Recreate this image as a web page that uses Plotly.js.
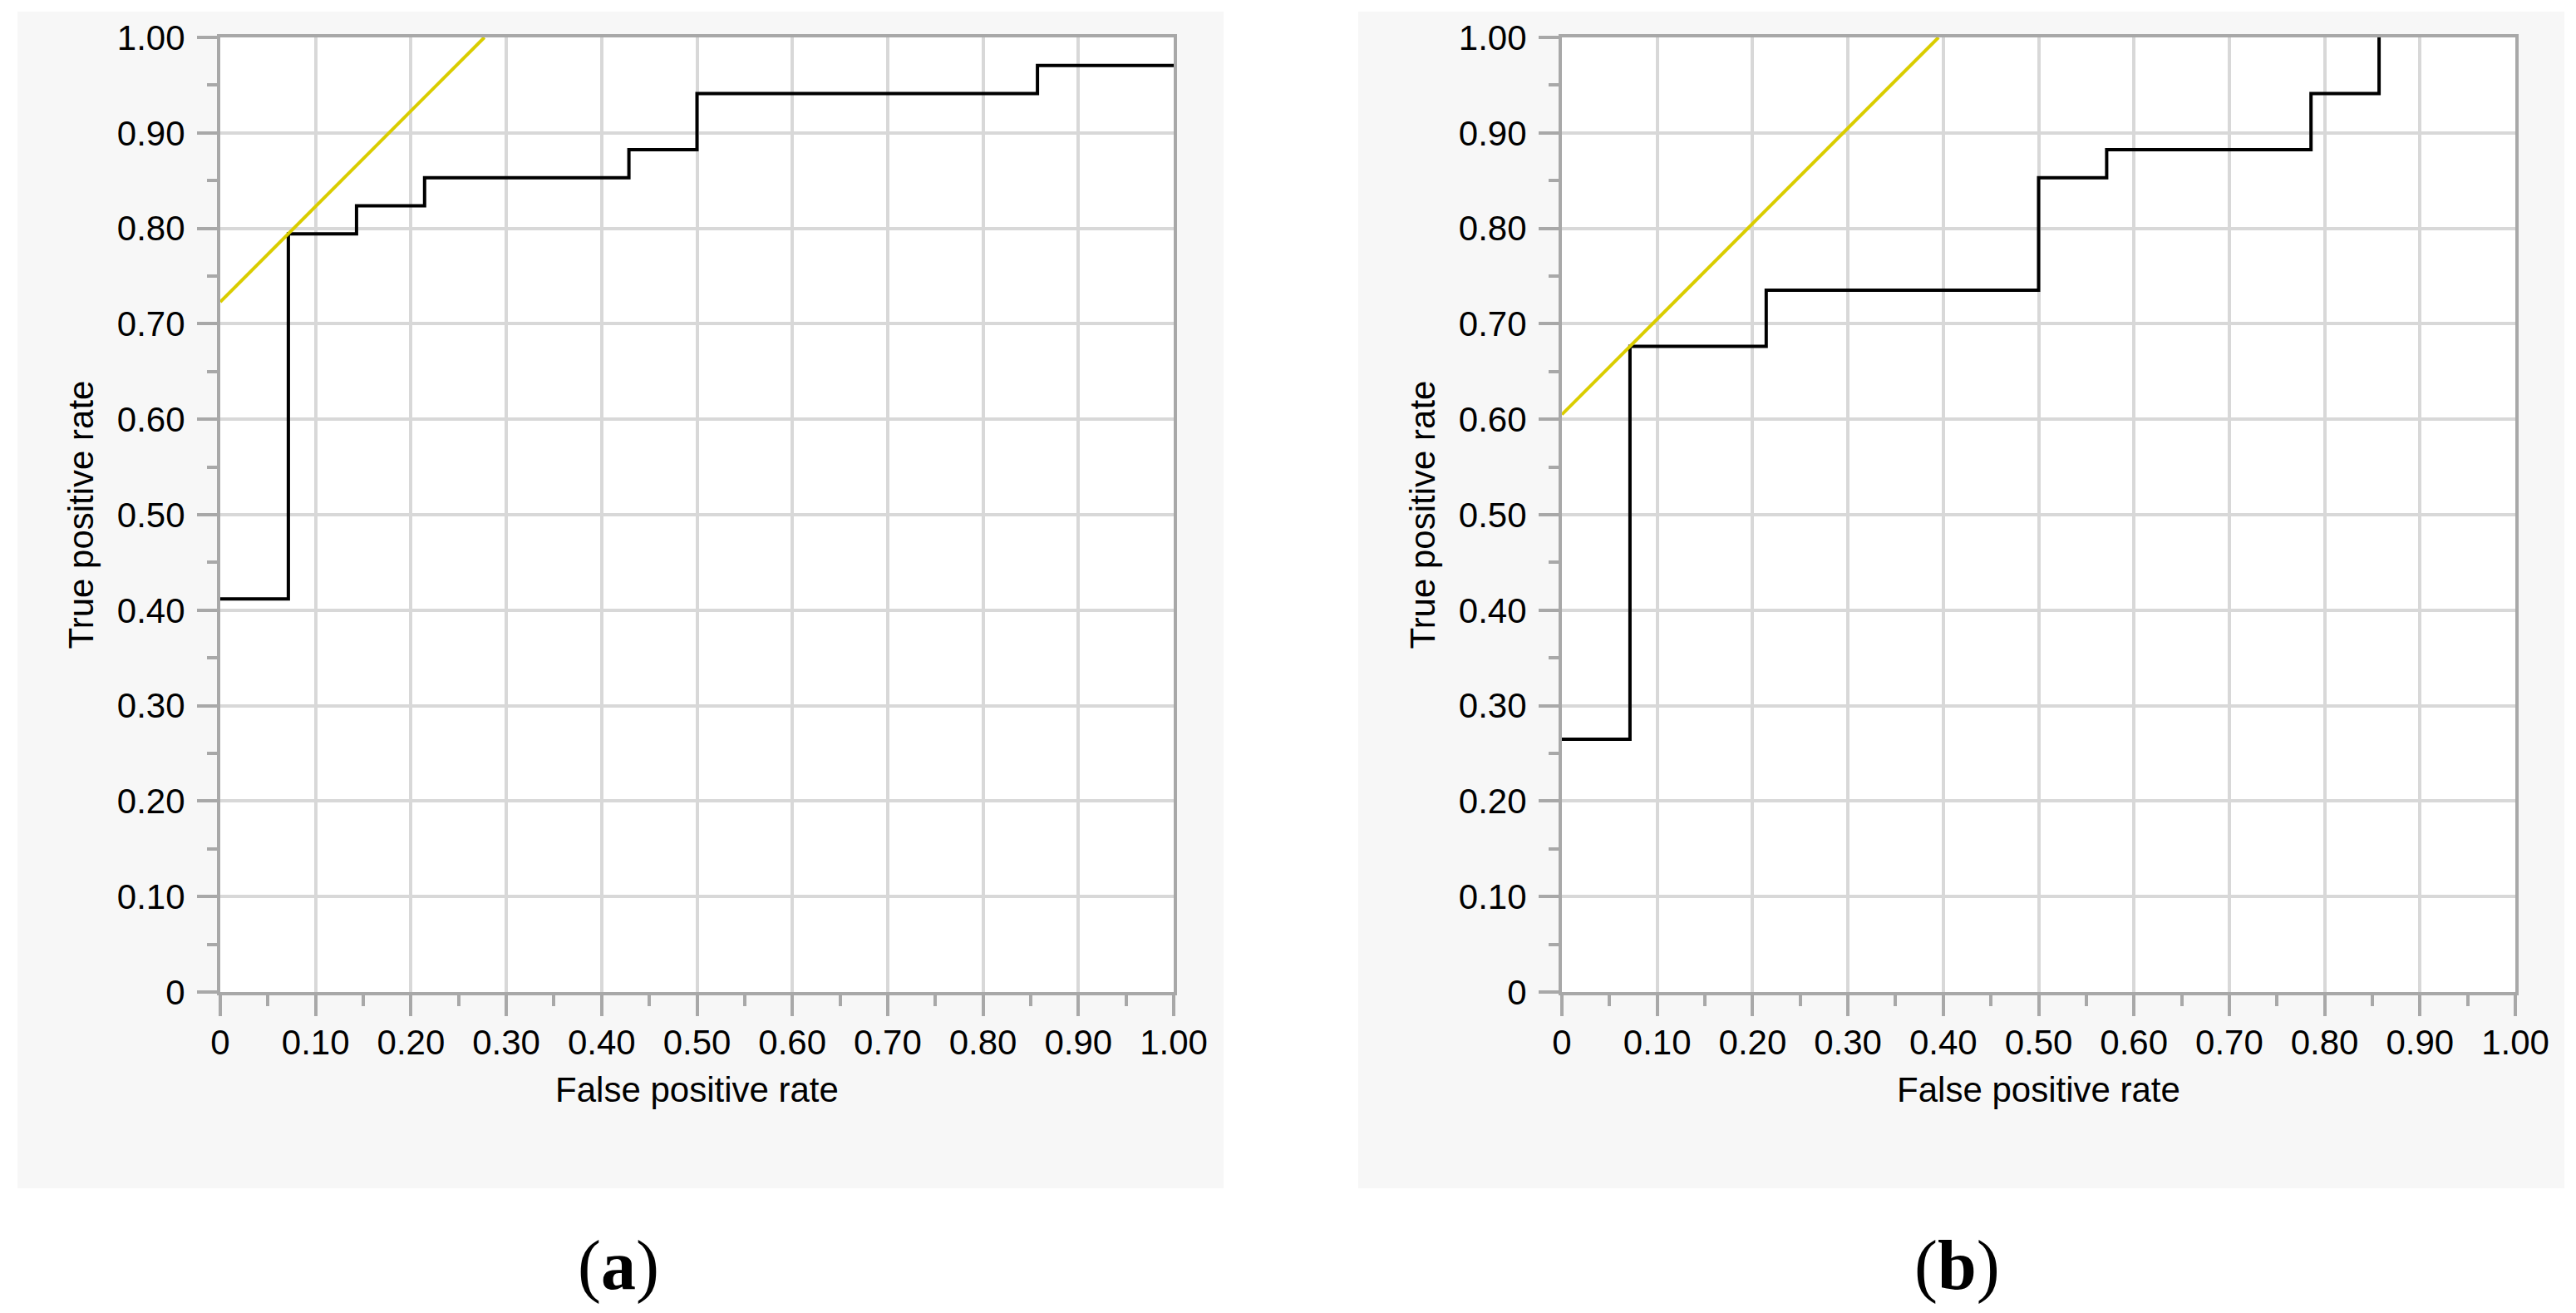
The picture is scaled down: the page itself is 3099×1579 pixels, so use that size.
<!DOCTYPE html>
<html>
<head>
<meta charset="utf-8">
<script src="https://cdn.plot.ly/plotly-3.0.1.min.js"></script>
<style>
  html, body { margin: 0; padding: 0; background: #ffffff; }
  #chart { width: 3099px; height: 1579px; }
</style>
</head>
<body>
<div id="chart"></div>
<script>
// ---- data ----
const tickVals = [0, 0.1, 0.2, 0.3, 0.4, 0.5, 0.6, 0.7, 0.8, 0.9, 1.0];
const tickText = ['0', '0.10', '0.20', '0.30', '0.40', '0.50', '0.60', '0.70', '0.80', '0.90', '1.00'];

// panel (a) ROC step curve (points joined horizontal-then-vertical)
const fprA = [0, 0.0714, 0.1429, 0.2143, 0.4286, 0.5, 0.8571, 1.0];
const tprA = [0.4118, 0.7941, 0.8235, 0.8529, 0.8824, 0.9412, 0.9706, 0.9706];
// panel (a) yellow tangent line
const tangentAX = [0, 0.277];
const tangentAY = [0.723, 1.0];

// panel (b) ROC step curve
const fprB = [0, 0.0714, 0.2143, 0.5, 0.5714, 0.7857, 0.8571];
const tprB = [0.2647, 0.6765, 0.7353, 0.8529, 0.8824, 0.9412, 1.0];
// panel (b) yellow tangent line
const tangentBX = [0, 0.395];
const tangentBY = [0.605, 1.0];

const xTitle = 'False positive rate';
const yTitle = 'True positive rate';
const panelLabels = ['(<b>a</b>)', '(<b>b</b>)'];

// ---- layout geometry ----
const W = 3099, H = 1579;
const px = v => v / W;
const py = v => 1 - v / H;

const axisColor = '#a8a8a8';
const gridColor = '#d8d8d8';
const tickFont = { family: 'Liberation Sans, Arial, Helvetica, sans-serif', size: 42, color: '#000000' };

function xAxis(domain, anchor) {
  return {
    domain: domain, anchor: anchor, range: [0, 1], fixedrange: true,
    tickmode: 'array', tickvals: tickVals, ticktext: tickText,
    ticks: 'outside', ticklen: 25, tickwidth: 4, tickcolor: axisColor,
    minor: { tickmode: 'linear', tick0: 0, dtick: 0.05, ticks: 'outside', ticklen: 13, tickwidth: 4, tickcolor: axisColor, showgrid: false },
    showgrid: true, gridcolor: gridColor, gridwidth: 4,
    zeroline: false, showline: true, linecolor: axisColor, linewidth: 4, mirror: true,
    tickfont: tickFont, ticklabelstandoff: -4,
    title: { text: xTitle, font: tickFont, standoff: 20 },
    automargin: false
  };
}
function yAxis(domain, anchor) {
  return {
    domain: domain, anchor: anchor, range: [0, 1], fixedrange: true,
    tickmode: 'array', tickvals: tickVals, ticktext: tickText,
    ticks: 'outside', ticklen: 24, tickwidth: 4, tickcolor: axisColor,
    minor: { tickmode: 'linear', tick0: 0, dtick: 0.05, ticks: 'outside', ticklen: 12, tickwidth: 4, tickcolor: axisColor, showgrid: false },
    showgrid: true, gridcolor: gridColor, gridwidth: 4,
    zeroline: false, showline: true, linecolor: axisColor, linewidth: 4, mirror: true,
    tickfont: tickFont, ticklabelstandoff: 6,
    title: { text: yTitle, font: tickFont, standoff: 16 },
    automargin: false
  };
}

const yDom = [py(1193), py(45)];
const xDomA = [px(265), px(1412)];
const xDomB = [px(1879), px(3026)];

const traces = [
  { x: fprA, y: tprA, xaxis: 'x', yaxis: 'y', type: 'scatter', mode: 'lines',
    line: { shape: 'hv', color: '#000000', width: 4 }, hoverinfo: 'skip', showlegend: false },
  { x: tangentAX, y: tangentAY, xaxis: 'x', yaxis: 'y', type: 'scatter', mode: 'lines',
    line: { color: '#dacd00', width: 4 }, hoverinfo: 'skip', showlegend: false },
  { x: fprB, y: tprB, xaxis: 'x2', yaxis: 'y2', type: 'scatter', mode: 'lines',
    line: { shape: 'hv', color: '#000000', width: 4 }, hoverinfo: 'skip', showlegend: false },
  { x: tangentBX, y: tangentBY, xaxis: 'x2', yaxis: 'y2', type: 'scatter', mode: 'lines',
    line: { color: '#dacd00', width: 4 }, hoverinfo: 'skip', showlegend: false }
];

const panelBg = '#f7f7f7';
const shapes = [
  { type: 'rect', xref: 'paper', yref: 'paper', x0: px(21), x1: px(1472), y0: py(1429), y1: py(14),
    fillcolor: panelBg, line: { width: 0 }, layer: 'below' },
  { type: 'rect', xref: 'paper', yref: 'paper', x0: px(1634), x1: px(3085), y0: py(1429), y1: py(14),
    fillcolor: panelBg, line: { width: 0 }, layer: 'below' },
  { type: 'rect', xref: 'paper', yref: 'paper', x0: xDomA[0], x1: xDomA[1], y0: yDom[0], y1: yDom[1],
    fillcolor: '#ffffff', line: { width: 0 }, layer: 'below' },
  { type: 'rect', xref: 'paper', yref: 'paper', x0: xDomB[0], x1: xDomB[1], y0: yDom[0], y1: yDom[1],
    fillcolor: '#ffffff', line: { width: 0 }, layer: 'below' }
];

const labelFont = { family: 'Liberation Serif, Times New Roman, serif', size: 84, color: '#000000' };
const annotations = [
  { text: panelLabels[0], xref: 'paper', yref: 'paper', x: px(744), y: py(1522),
    xanchor: 'center', yanchor: 'middle', showarrow: false, font: labelFont },
  { text: panelLabels[1], xref: 'paper', yref: 'paper', x: px(2354), y: py(1522),
    xanchor: 'center', yanchor: 'middle', showarrow: false, font: labelFont }
];

const layout = {
  width: W, height: H,
  margin: { l: 0, r: 0, t: 0, b: 0, pad: 0 },
  paper_bgcolor: '#ffffff', plot_bgcolor: '#ffffff',
  showlegend: false,
  xaxis: xAxis(xDomA, 'y'),
  yaxis: yAxis(yDom, 'x'),
  xaxis2: xAxis(xDomB, 'y2'),
  yaxis2: yAxis(yDom, 'x2'),
  shapes: shapes,
  annotations: annotations
};

Plotly.newPlot('chart', traces, layout, { staticPlot: true, displayModeBar: false });
</script>
</body>
</html>
